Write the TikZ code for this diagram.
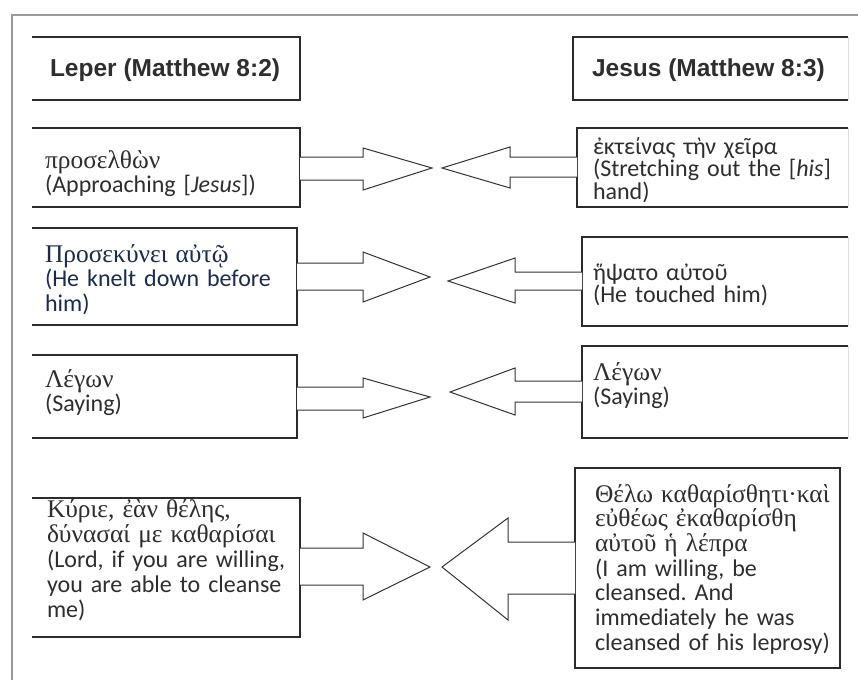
\documentclass[tikz,border=0pt]{standalone}
\usepackage{fontspec}
\setmainfont{Carlito}
\newfontfamily\grserif[Scale=1.06]{Liberation Serif}
\newfontfamily\hdrfont{Liberation Sans}
\definecolor{txt}{HTML}{2E2E2E}
\definecolor{navy}{HTML}{1C2B4A}
\definecolor{boxline}{HTML}{2B2B2B}
\definecolor{arrowc}{HTML}{333333}
\definecolor{framec}{HTML}{9A9A9A}
\definecolor{faint}{HTML}{DDDDDD}
\frenchspacing
\begin{document}
\begin{tikzpicture}[x=1pt,y=-1pt,
  boxshape/.style={rectangle,inner sep=0pt,outer sep=0pt,draw=none},
  edge/.style={draw=boxline,line width=1.5pt},
  faintedge/.style={draw=faint,line width=1pt},
  arrowline/.style={draw=arrowc,line width=1pt,line join=miter,fill=white},
  lbl/.style={anchor=base west,inner sep=0pt,outer sep=0pt,align=left,text width=270pt,text=txt,font=\fontsize{24}{24.5}\selectfont},
  hdr/.style={anchor=base west,inner sep=0pt,outer sep=0pt,text=txt,font=\hdrfont\bfseries\fontsize{24.5}{24.5}\selectfont},
]
\useasboundingbox (0,0) rectangle (858,680);
\fill[white] (0,0) rectangle (858,680);
% outer frame
\coordinate (frameTL) at (12,15);
\draw[framec,line width=2pt] (858,15) -- (frameTL) -- (12,680);

% boxes
\node[boxshape,minimum width=268pt,minimum height=63pt] (HL) at (166,68.5) {};
\node[boxshape,minimum width=275pt,minimum height=63pt] (HR) at (710.5,68.5) {};
\node[boxshape,minimum width=268pt,minimum height=79pt] (L1) at (166,167.5) {};
\node[boxshape,minimum width=271pt,minimum height=79pt] (R1) at (712.5,167.5) {};
\node[boxshape,minimum width=265pt,minimum height=97pt] (L2) at (164.5,276.5) {};
\node[boxshape,minimum width=266pt,minimum height=89pt] (R2) at (715,281.5) {};
\node[boxshape,minimum width=265pt,minimum height=83pt] (L3) at (164.5,396.5) {};
\node[boxshape,minimum width=266pt,minimum height=92pt] (R3) at (715,392) {};
\node[boxshape,minimum width=268pt,minimum height=139pt] (L4) at (166,567.5) {};
\node[boxshape,minimum width=265pt,minimum height=200pt] (R4) at (707.5,568) {};

% left boxes: open on the left
\foreach \b in {HL,L1,L2,L3,L4}{
  \draw[edge] (\b.north west) -| (\b.south east) -- (\b.south west);
}
% right boxes: open (faint) on the right
\foreach \b in {HR,R1,R2,R3}{
  \draw[faintedge] (\b.north east) -- (\b.south east);
  \draw[edge] (\b.north east) -| (\b.south west) -- (\b.south east);
}
\draw[edge] (R4.north west) rectangle (R4.south east);

% tips
\coordinate (tL1) at (432,168);
\coordinate (tR1) at (442,168);
\coordinate (tL2) at (430,277);
\coordinate (tR2) at (448,281);
\coordinate (tL3) at (430,397);
\coordinate (tR3) at (450,392);
\coordinate (tL4) at (430,567);
\coordinate (tR4) at (442,567);

% block arrows
\draw[arrowline] (L1.east |- 0,157) -- (363,157) -- (363,148) -- (tL1) -- (363,190) -- (363,180) -- (L1.east |- 0,180);
\draw[arrowline] (R1.west |- 0,157) -- (510,157) -- (510,147) -- (tR1) -- (510,188) -- (510,177) -- (R1.west |- 0,177);
\draw[arrowline] (L2.east |- 0,263) -- (363,263) -- (363,252) -- (tL2) -- (363,302) -- (363,290) -- (L2.east |- 0,290);
\draw[arrowline] (R2.west |- 0,272) -- (515,272) -- (515,258) -- (tR2) -- (515,303) -- (515,290) -- (R2.west |- 0,290);
\draw[arrowline] (L3.east |- 0,387) -- (363,387) -- (363,378) -- (tL3) -- (363,418) -- (363,410) -- (L3.east |- 0,410);
\draw[arrowline] (R3.west |- 0,381) -- (515,381) -- (515,368) -- (tR3) -- (515,415) -- (515,402) -- (R3.west |- 0,402);
\draw[arrowline] (L4.east |- 0,548) -- (363,548) -- (363,533) -- (tL4) -- (363,600) -- (363,585) -- (L4.east |- 0,585);
\draw[arrowline] (R4.west |- 0,542) -- (508,542) -- (508,518) -- (tR4) -- (508,620) -- (508,594) -- (R4.west |- 0,594);

% headers
\node[hdr] (HLt) at (50,76) {Leper (Matthew 8:2)};
\node[hdr] (HRt) at (592,76) {Jesus (Matthew 8:3)};

% texts
\node[lbl] (L1t) at (45,168) {{\grserif προσελθὼν}\\(Approaching [\textit{Jesus}])};
\node[lbl,font=\fontsize{24}{22.5}\selectfont] (R1t) at (593,154) {ἐκτείνας τὴν χεῖρα\\(Stretching out the [\textit{his}]\\hand)};
\node[lbl,text=navy] (L2t) at (45,262) {{\grserif Προσεκύνει αὐτῷ}\\(He knelt down before\\him)};
\node[lbl,font=\fontsize{24}{21}\selectfont] (R2t) at (593,280) {ἥψατο αὐτοῦ\\(He touched him)};
\node[lbl] (L3t) at (45,387) {{\grserif Λέγων}\\(Saying)};
\node[lbl] (R3t) at (593,380) {{\grserif Λέγων}\\(Saying)};
\node[lbl,font=\fontsize{24}{25}\selectfont] (L4t) at (47,517) {{\grserif Κύριε, ἐὰν θέλης,}\\{\grserif δύνασαί με καθαρίσαι}\\(Lord, if you are willing,\\you are able to cleanse\\me)};
\node[lbl,font=\fontsize{24}{24.7}\selectfont] (R4t) at (595,502) {{\grserif Θέλω καθαρίσθητι·καὶ}\\{\grserif εὐθέως ἐκαθαρίσθη}\\{\grserif αὐτοῦ ἡ λέπρα}\\(I am willing, be\\cleansed. And\\immediately he was\\cleansed of his leprosy)};
\end{tikzpicture}
\end{document}
